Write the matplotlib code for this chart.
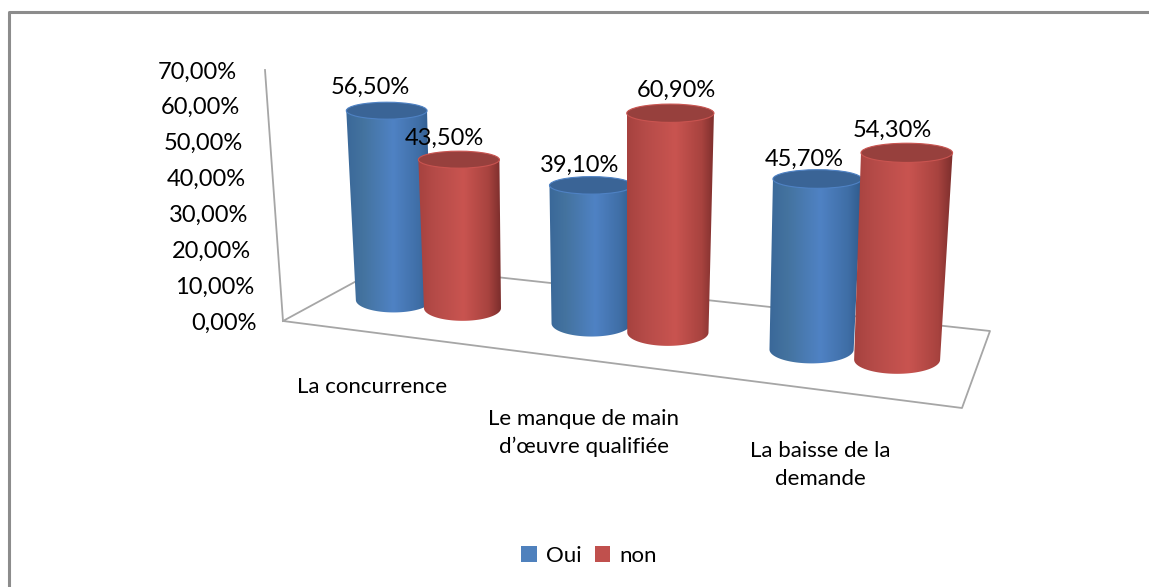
import numpy as np
import matplotlib
matplotlib.use('Agg')
import matplotlib.pyplot as plt
from matplotlib.colors import LinearSegmentedColormap
from matplotlib.patches import Ellipse, Patch, PathPatch
from matplotlib.path import Path

categories = ['La concurrence', 'Le manque de main\nd’œuvre qualifiée', 'La baisse de la\ndemande']
series_names = ['Oui', 'non']
oui = [56.5, 39.1, 45.7]
non = [43.5, 60.9, 54.3]
y_ticks = [0, 10, 20, 30, 40, 50, 60, 70]

plt.rcParams['font.family'] = ['Lato', 'DejaVu Sans']
W, H = 1149, 587
FS = 17

fig = plt.figure(figsize=(W / 100, H / 100), dpi=100)
ax = fig.add_axes([0, 0, 1, 1])
ax.axis('off')

# floor of the 3d box, pixel corners
floor_src = np.array([[0, 0], [3, 0], [3, 1], [0, 1]], dtype=float)
floor_dst = np.array([[283, 321], [962, 408], [990, 331], [386, 265]], dtype=float)


def fit_homography(src, dst):
    A, b = [], []
    for (u, v), (x, y) in zip(src, dst):
        A.append([u, v, 1, 0, 0, 0, -u * x, -v * x])
        A.append([0, 0, 0, u, v, 1, -u * y, -v * y])
        b += [x, y]
    return np.append(np.linalg.solve(np.array(A), np.array(b)), 1).reshape(3, 3)


HOM = fit_homography(floor_src, floor_dst)


def project(u, v):
    p = HOM @ np.array([u, v, 1.0])
    return p[0] / p[2], p[1] / p[2], 1 / p[2]


def cylinder(u, value, cmap, cap_color, z):
    bx, by, s = project(u, 0.47)
    h = value * 3.5 * s
    tx = bx + (bx - 600) * value * 6e-4
    ty = by - h
    r_bot = 39.5 * s
    r_top = r_bot * (1 + value * 0.0012)
    theta = np.linspace(np.pi, 0, 61)
    xs = np.concatenate([bx + r_bot * np.cos(theta), [tx + r_top, tx - r_top, bx - r_bot]])
    ys = np.concatenate([by + 0.33 * r_bot * np.sin(theta), [ty, ty, by]])
    body = PathPatch(Path(np.column_stack([xs, ys])), facecolor='none', edgecolor='none', transform=ax.transData)
    ax.add_patch(body)
    left = min(bx - r_bot, tx - r_top)
    right = max(bx + r_bot, tx + r_top)
    grad = np.linspace(0, 1, 256).reshape(1, -1)
    im = ax.imshow(grad, cmap=cmap, extent=[left, right, by + 20, ty - 2], aspect='auto',
                   interpolation='bilinear', zorder=z)
    im.set_clip_path(body)
    ax.add_patch(Ellipse((tx, ty), 2 * r_top, 0.42 * r_top, facecolor=cap_color, edgecolor=cmap(0.55),
                         linewidth=0.8, zorder=z + 0.1))
    return tx, ty


blue_map = LinearSegmentedColormap.from_list('b', [(0, '#3A6899'), (0.2, '#44739F'), (0.55, '#4F82C4'), (0.85, '#3F6EA6'), (1, '#2F5B8C')])
red_map = LinearSegmentedColormap.from_list('r', [(0, '#A6423F'), (0.2, '#B54B48'), (0.55, '#C95450'), (0.85, '#A8433F'), (1, '#7C2E2C')])

# outer frame, only left and top edges show in the source
frame = '#8C8C8C'
ax.plot([9, 9, W], [H, 12, 12], color=frame, lw=2.2, solid_capstyle='butt', zorder=1)

# box lines
box = '#A6A6A6'
ax.plot([265, 283], [70, 321], color=box, lw=1.3, zorder=2)
ax.plot(floor_dst[[0, 1, 2, 3, 0], 0], floor_dst[[0, 1, 2, 3, 0], 1], color=box, lw=1.3, zorder=2)

for v in y_ticks:
    lab = f'{v:.2f}%'.replace('.', ',')
    ax.text(257 - v * 20 / 70, 323 - v * 3.586, lab, ha='right', va='center', fontsize=FS, color='black', zorder=20)

label_dx = [[-16, -12, -13], [-15, 6, -14]]
label_dy = [[-23, -20, -20], [-21, -23, -22]]
z = 3
half_gap = 0.18
for i in range(len(categories)):
    tx, ty = cylinder(i + 0.5 - half_gap, oui[i], blue_map, '#3A6496', z)
    ax.text(tx + label_dx[0][i], ty + label_dy[0][i], f'{oui[i]:.2f}%'.replace('.', ','), ha='center', va='center',
            fontsize=FS, color='black', zorder=20)
    z += 1
    tx, ty = cylinder(i + 0.5 + half_gap, non[i], red_map, '#97403D', z)
    ax.text(tx + label_dx[1][i], ty + label_dy[1][i], f'{non[i]:.2f}%'.replace('.', ','), ha='center', va='center',
            fontsize=FS, color='black', zorder=20)
    z += 1

cat_x = [372, 584, 820]
cat_y = [387, 433, 465]
for c, x, y in zip(categories, cat_x, cat_y):
    ax.text(x, y, c, ha='center', va='center', fontsize=16, linespacing=1.5, color='black', zorder=20)

ax.set_xlim(0, W)
ax.set_ylim(H, 0)

handles = [Patch(facecolor='#4F81BD'), Patch(facecolor='#C0504D')]
ax.legend(handles, series_names, ncol=2, loc='center', bbox_to_anchor=(589, 556), bbox_transform=ax.transData,
          frameon=False, fontsize=16, handlelength=0.7, handleheight=0.7, handletextpad=0.4, columnspacing=0.6)

fig.savefig('out.png', dpi=100)
